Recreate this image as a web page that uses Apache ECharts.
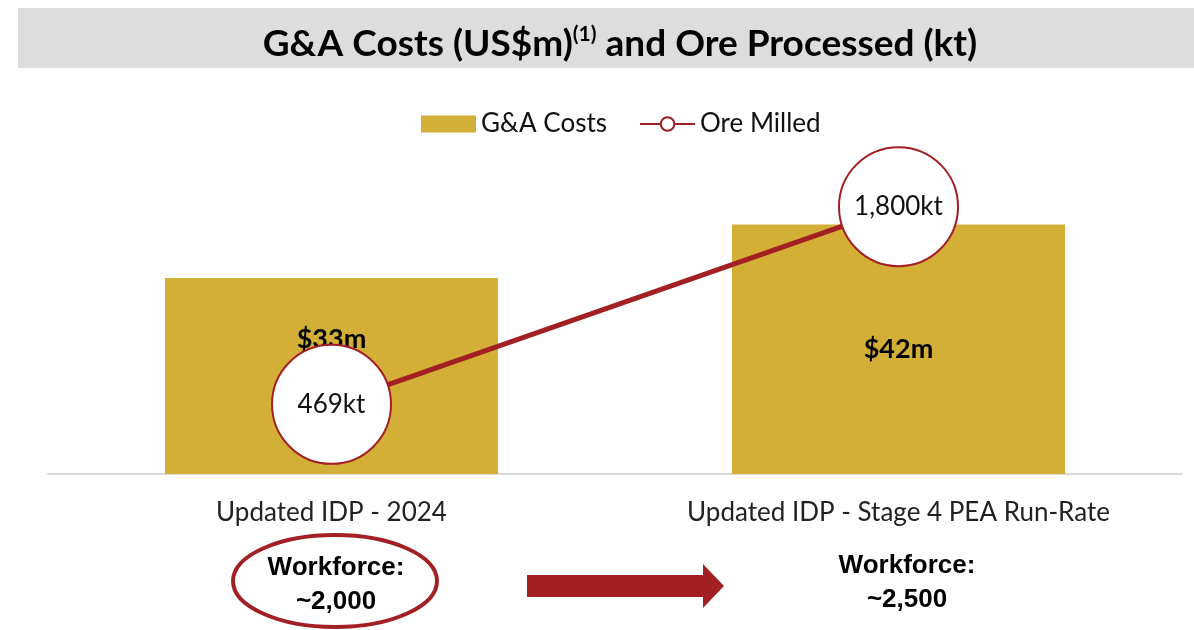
<!DOCTYPE html>
<html>
<head>
<meta charset="utf-8">
<script src="https://cdn.jsdelivr.net/npm/echarts@6/dist/echarts.min.js"></script>
<style>
  html, body { margin: 0; padding: 0; background: #fff; }
  #chart { width: 1194px; height: 630px; }
</style>
</head>
<body>
<div id="chart"></div>
<script>
var categories = ['Updated IDP - 2024', 'Updated IDP - Stage 4 PEA Run-Rate'];
var gaCosts = [33, 42];          // US$m
var oreMilled = [469, 1800];     // kt
var workforce = ['~2,000', '~2,500'];

var GOLD = '#D4AF37';
var RED = '#A21F24';
var BODY_FONT = 'Lato';

var chart = echarts.init(document.getElementById('chart'), null, { renderer: 'canvas' });

var option = {
  animation: false,
  backgroundColor: '#fff',
  title: {
    text: '{m|G&A Costs (US$m)}{s|(1)}{m| and Ore Processed (kt)}',
    left: 615,
    top: 19,
    textAlign: 'center',
    textStyle: {
      rich: {
        m: { fontFamily: BODY_FONT, fontWeight: 'bold', fontSize: 37, color: '#000', lineHeight: 40 },
        s: { fontFamily: BODY_FONT, fontWeight: 'bold', fontSize: 21, color: '#000', lineHeight: 40, verticalAlign: 'top', padding: [0, 0, 14, 0] }
      }
    }
  },
  legend: {
    top: 106,
    left: 416,
    itemGap: 32,
    itemWidth: 55,
    itemHeight: 17,
    textStyle: { fontFamily: BODY_FONT, fontSize: 26, color: '#111' },
    data: [
      { name: 'G&A Costs', icon: 'rect' },
      { name: 'Ore Milled' }
    ]
  },
  grid: { left: 48, right: 12, top: 177, bottom: 156, containLabel: false },
  xAxis: {
    type: 'category',
    data: categories,
    axisLine: { lineStyle: { color: '#D9D9D9', width: 2 } },
    axisTick: { show: false },
    axisLabel: { fontFamily: BODY_FONT, fontSize: 26, color: '#222', margin: 26 }
  },
  yAxis: [
    { type: 'value', min: 0, max: 50, show: false },
    { type: 'value', min: 0, max: 2000, show: false }
  ],
  series: [
    {
      name: 'G&A Costs',
      type: 'bar',
      yAxisIndex: 0,
      barWidth: 333,
      itemStyle: { color: GOLD },
      label: {
        show: true,
        position: 'inside',
        formatter: function (p) { return '$' + p.value + 'm'; },
        fontFamily: BODY_FONT,
        fontWeight: 'bold',
        fontSize: 27,
        color: '#000'
      },
      data: gaCosts.map(function (v, i) {
        return i === 0 ? { value: v, label: { offset: [0, -37] } } : v;
      }),
      z: 1
    },
    {
      name: 'Ore Milled',
      type: 'line',
      yAxisIndex: 1,
      data: oreMilled,
      symbol: 'circle',
      symbolSize: 119,
      lineStyle: { color: RED, width: 5 },
      itemStyle: { color: '#fff', borderColor: RED, borderWidth: 2 },
      label: {
        show: true,
        position: 'inside',
        formatter: function (p) { return p.value.toLocaleString('en-US') + 'kt'; },
        fontFamily: BODY_FONT,
        fontSize: 26,
        color: '#111'
      },
      z: 3
    }
  ],
  graphic: [
    {
      type: 'rect', z: -10,
      shape: { x: 18, y: 8, width: 1176, height: 60 },
      style: { fill: '#DDDDDD' }
    },
    {
      type: 'ellipse',
      shape: { cx: 335, cy: 581, rx: 102, ry: 46 },
      style: { fill: '#fff', stroke: RED, lineWidth: 4 }
    },
    {
      type: 'text', x: 336, y: 551,
      style: {
        text: 'Workforce:\n' + workforce[0],
        textAlign: 'center',
        fontFamily: 'Liberation Sans', fontWeight: 'bold', fontSize: 26, lineHeight: 34,
        fill: '#000'
      }
    },
    {
      type: 'polygon',
      shape: { points: [[527, 575], [703, 575], [703, 564], [724, 586], [703, 608], [703, 597], [527, 597]] },
      style: { fill: RED }
    },
    {
      type: 'text', x: 907, y: 549,
      style: {
        text: 'Workforce:\n' + workforce[1],
        textAlign: 'center',
        fontFamily: 'Liberation Sans', fontWeight: 'bold', fontSize: 26, lineHeight: 34,
        fill: '#000'
      }
    }
  ]
};

chart.setOption(option);
</script>
</body>
</html>
